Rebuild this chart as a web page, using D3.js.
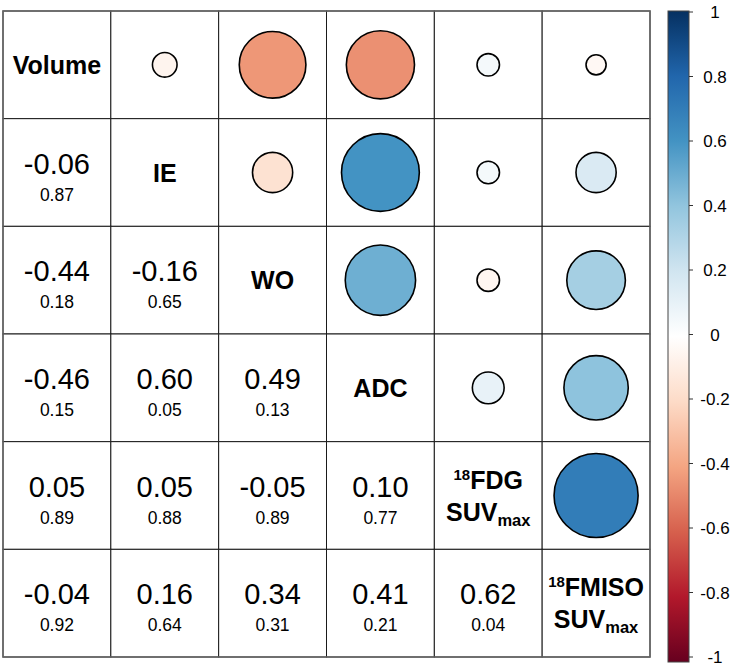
<!DOCTYPE html>
<html><head><meta charset="utf-8">
<script src="https://cdn.jsdelivr.net/npm/d3@7"></script>
<style>html,body{margin:0;padding:0;background:#fff;}svg{display:block;font-family:"Liberation Sans",Arial,sans-serif;}</style>
</head><body><div id="chart"></div>
<script>
// Variables (diagonal labels)
const variables = ["Volume", "IE", "WO", "ADC", "FDG", "FMISO"];
const diagLabels = [
  [{t:"Volume"}],
  [{t:"IE"}],
  [{t:"WO"}],
  [{t:"ADC"}],
  [{sup:"18", t:"FDG"}, {t:"SUV", sub:"max"}],
  [{sup:"18", t:"FMISO"}, {t:"SUV", sub:"max"}]
];
// Lower triangle: correlation coefficients (row i, col j<i)
const corrIE    = [-0.06];
const corrWO    = [-0.44, -0.16];
const corrADC   = [-0.46, 0.60, 0.49];
const corrFDG   = [0.05, 0.05, -0.05, 0.10];
const corrFMISO = [-0.04, 0.16, 0.34, 0.41, 0.62];
// Lower triangle: p-values
const pIE    = [0.87];
const pWO    = [0.18, 0.65];
const pADC   = [0.15, 0.05, 0.13];
const pFDG   = [0.89, 0.88, 0.89, 0.77];
const pFMISO = [0.92, 0.64, 0.31, 0.21, 0.04];
// Upper triangle circles (value drawn) indexed [col][row]
const circIE    = [-0.06];
const circWO    = [-0.44, -0.16];
const circADC   = [-0.46, 0.60, 0.49];
const circFDG   = [0.05, 0.05, -0.05, 0.10];
const circFMISO = [-0.04, 0.16, 0.34, 0.41, 0.70];
// Colour bar ticks
const barTicks = [1, 0.8, 0.6, 0.4, 0.2, 0, -0.2, -0.4, -0.6, -0.8, -1];
const barTickLabels = ["1", "0.8", "0.6", "0.4", "0.2", "0", "-0.2", "-0.4", "-0.6", "-0.8", "-1"];
const paletteStops = ["#67001F","#B2182B","#D6604D","#F4A582","#FDDBC7","#FFFFFF","#D1E5F0","#92C5DE","#4393C3","#2166AC","#053061"];

const corrRows = [[], corrIE, corrWO, corrADC, corrFDG, corrFMISO];
const pRows = [[], pIE, pWO, pADC, pFDG, pFMISO];
const circRows = [[], circIE, circWO, circADC, circFDG, circFMISO];

const W = 732, H = 669;
const svg = d3.select("#chart").append("svg").attr("width", W).attr("height", H);

const gridL = 3, gridR = 650, gridT = 11, gridB = 657;
const x = d3.scaleBand().domain(d3.range(6)).range([gridL, gridR]).padding(0);
const y = d3.scaleBand().domain(d3.range(6)).range([gridT, gridB]).padding(0);
const cw = x.bandwidth(), ch = y.bandwidth();

const color = d3.scaleLinear()
  .domain(d3.range(11).map(i => -1 + i * 0.2))
  .range(paletteStops)
  .interpolate(d3.interpolateRgb);
const rad = d3.scaleSqrt().domain([0, 1]).range([0, cw * 0.466]);

// cells
const cells = [];
for (let i = 0; i < 6; i++) for (let j = 0; j < 6; j++) cells.push({i, j});
svg.append("g").selectAll("rect").data(cells).join("rect")
  .attr("x", d => x(d.j)).attr("y", d => y(d.i))
  .attr("width", cw).attr("height", ch)
  .attr("fill", "#fff").attr("stroke", "#1a1a1a").attr("stroke-width", 1);
svg.append("rect").attr("x", gridL).attr("y", gridT)
  .attr("width", gridR - gridL).attr("height", gridB - gridT)
  .attr("fill", "none").attr("stroke", "#666").attr("stroke-width", 1.5);

// upper circles
const circData = [];
circRows.forEach((row, c) => row.forEach((v, r) => circData.push({row: r, col: c, v})));
svg.append("g").selectAll("circle").data(circData).join("circle")
  .attr("cx", d => x(d.col) + cw / 2).attr("cy", d => y(d.row) + ch / 2)
  .attr("r", d => rad(Math.abs(d.v)))
  .attr("fill", d => color(d.v)).attr("stroke", "#000").attr("stroke-width", 1.6);

// lower texts
const txtData = [];
corrRows.forEach((row, i) => row.forEach((v, j) => txtData.push({i, j, v, p: pRows[i][j]})));
const fmt = d3.format(".2f");
const tg = svg.append("g");
tg.selectAll("text.r").data(txtData).join("text").attr("class", "r")
  .attr("x", d => x(d.j) + cw / 2).attr("y", d => y(d.i) + ch / 2 + 1)
  .attr("text-anchor", "middle").attr("font-size", 29).attr("fill", "#000")
  .text(d => fmt(d.v).replace("−", "-"));
tg.selectAll("text.p").data(txtData).join("text").attr("class", "p")
  .attr("x", d => x(d.j) + cw / 2).attr("y", d => y(d.i) + ch / 2 + 28)
  .attr("text-anchor", "middle").attr("font-size", 17.5).attr("fill", "#000")
  .text(d => fmt(d.p));

// diagonal labels
diagLabels.forEach((lines, k) => {
  const cx = x(k) + cw / 2, cy = y(k) + ch / 2;
  const n = lines.length;
  lines.forEach((ln, li) => {
    const base = n === 1 ? cy + 9 : cy + (li === 0 ? -7 : 25);
    const t = svg.append("text").attr("x", cx).attr("y", base)
      .attr("text-anchor", "middle").attr("font-weight", "bold")
      .attr("font-size", 25).attr("fill", "#000");
    if (ln.sup) t.append("tspan").attr("font-size", 15).attr("dy", -9).text(ln.sup);
    t.append("tspan").attr("dy", ln.sup ? 9 : 0).text(ln.t);
    if (ln.sub) t.append("tspan").attr("font-size", 16.5).attr("dy", 5).text(ln.sub);
  });
});

// colour bar
const barX = 668, barW = 21, barT = 11, barB = 662;
const by = d3.scaleLinear().domain([1, -1]).range([12, 657]);
const defs = svg.append("defs");
const grad = defs.append("linearGradient").attr("id", "cbar")
  .attr("x1", 0).attr("y1", 1).attr("x2", 0).attr("y2", 0);
paletteStops.forEach((c, i) => grad.append("stop").attr("offset", i / 10).attr("stop-color", c));
svg.append("rect").attr("x", barX).attr("y", barT).attr("width", barW).attr("height", barB - barT)
  .attr("fill", "url(#cbar)").attr("stroke", "#444").attr("stroke-width", 1);
const tk = svg.append("g");
tk.selectAll("line").data(barTicks).join("line")
  .attr("x1", barX + barW).attr("x2", barX + barW + 4)
  .attr("y1", d => by(d)).attr("y2", d => by(d))
  .attr("stroke", "#333").attr("stroke-width", 1);
tk.selectAll("text").data(barTicks).join("text")
  .attr("x", 715).attr("y", d => by(d) + 6)
  .attr("text-anchor", "middle").attr("font-size", 17).attr("fill", "#000")
  .text((d, i) => barTickLabels[i]);
</script></body></html>
